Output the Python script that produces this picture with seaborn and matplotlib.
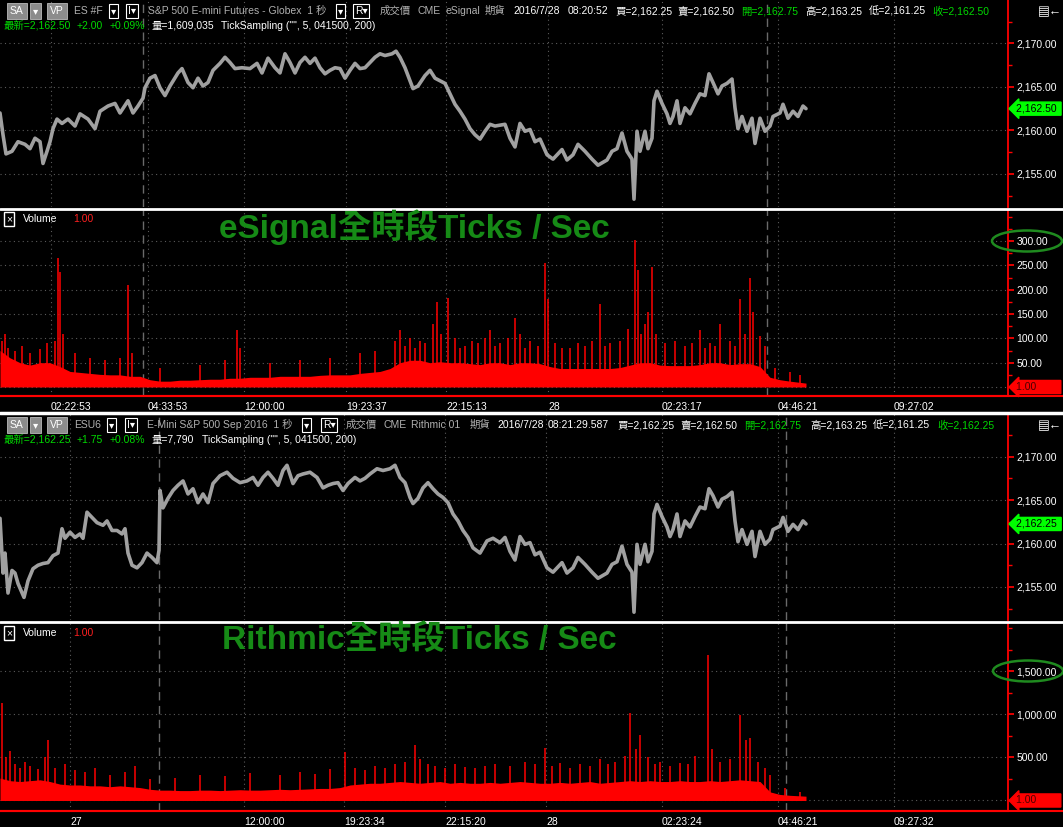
import numpy as np
import pandas as pd
import matplotlib.pyplot as plt
import seaborn as sns
from matplotlib.patches import Ellipse
from matplotlib.lines import Line2D
from matplotlib.ticker import FixedLocator, MultipleLocator, FuncFormatter
from matplotlib.transforms import blended_transform_factory

# ---- eSignal price trace (sample column, price) ----
esig_x = [0, 3, 6, 12, 18, 25, 30, 35, 40, 43, 47, 50, 53, 57, 62, 68, 75, 80, 88, 95,
          100, 108, 115, 120, 128, 133, 138, 143, 145, 150, 155, 160, 165, 170, 178, 182, 188, 193, 198, 203,
          208, 213, 220, 225, 230, 235, 242, 250, 257, 262, 268, 275, 280, 285, 290, 295, 300, 305, 310, 315,
          320, 325, 330, 335, 340, 345, 350, 355, 360, 365, 370, 375, 380, 385, 392, 396, 400, 405, 410, 413,
          418, 425, 430, 435, 440, 445, 450, 455, 460, 465, 470, 475, 480, 485, 490, 495, 505, 510, 515, 520,
          525, 530, 535, 540, 547, 553, 562, 567, 573, 578, 585, 592, 598, 607, 612, 617, 622, 627, 632, 634,
          637, 640, 645, 648, 652, 654, 657, 662, 667, 670, 673, 677, 680, 685, 690, 695, 700, 705, 709, 713,
          718, 722, 727, 732, 735, 738, 742, 747, 752, 755, 760, 765, 770, 773, 780, 783, 788, 793, 798, 803, 806]
esig_price = [2162.0, 2159.5, 2157.3, 2157.6, 2158.7, 2158.4, 2157.9, 2159.1, 2158.7, 2156.2,
              2157.6, 2158.7, 2160.2, 2161.3, 2160.8, 2161.3, 2160.5, 2161.9, 2161.3, 2160.2,
              2162.2, 2162.8, 2163.1, 2162.0, 2163.4, 2162.0, 2162.8, 2163.7, 2164.9, 2166.0,
              2166.3, 2164.9, 2164.0, 2165.1, 2166.6, 2167.1, 2165.5, 2164.9, 2166.0, 2165.1,
              2165.5, 2166.9, 2167.7, 2168.4, 2167.8, 2167.1, 2167.2, 2167.1, 2167.7, 2166.6,
              2168.3, 2167.2, 2166.6, 2168.8, 2167.8, 2166.6, 2167.8, 2168.4, 2167.7, 2168.3,
              2167.2, 2166.5, 2166.9, 2167.2, 2167.1, 2166.0, 2166.9, 2167.7, 2167.1, 2167.2,
              2167.8, 2168.4, 2168.8, 2168.6, 2168.8, 2169.1, 2168.4, 2167.2, 2165.7, 2164.8,
              2165.1, 2166.3, 2166.9, 2166.0, 2165.7, 2165.4, 2164.2, 2163.0, 2162.2, 2161.3,
              2160.2, 2159.5, 2159.0, 2159.9, 2160.7, 2160.5, 2160.7, 2159.1, 2158.1, 2160.8,
              2159.9, 2160.1, 2158.7, 2159.0, 2157.2, 2156.7, 2157.8, 2156.6, 2157.2, 2158.4,
              2157.6, 2156.7, 2156.0, 2156.6, 2157.6, 2157.9, 2159.7, 2157.6, 2156.7, 2152.1,
              2159.9, 2157.6, 2159.9, 2157.9, 2159.1, 2163.4, 2164.5, 2163.1, 2161.9, 2160.8,
              2161.6, 2163.4, 2160.8, 2162.6, 2161.9, 2163.1, 2164.2, 2164.0, 2166.5, 2165.5,
              2164.2, 2165.1, 2165.4, 2165.9, 2162.6, 2160.2, 2161.6, 2159.9, 2161.4, 2158.5,
              2161.4, 2159.9, 2160.5, 2161.6, 2162.0, 2163.0, 2161.4, 2162.2, 2161.6, 2162.8, 2162.5]

# ---- Rithmic price trace ----
rith_x = [0, 3, 5, 8, 12, 15, 18, 24, 28, 33, 38, 43, 48, 53, 58, 62, 65, 70, 75, 80,
          83, 87, 92, 97, 103, 107, 112, 117, 122, 125, 128, 132, 137, 142, 147, 152, 157, 159, 160, 163,
          168, 173, 178, 183, 188, 193, 198, 203, 208, 213, 220, 227, 233, 240, 247, 253, 258, 263, 268, 273,
          278, 283, 287, 293, 298, 303, 310, 317, 323, 328, 333, 338, 343, 348, 355, 360, 365, 370, 377, 383,
          390, 395, 400, 405, 410, 413, 418, 423, 428, 433, 438, 443, 448, 453, 458, 463, 468, 473, 480, 487,
          493, 500, 505, 510, 515, 520, 525, 530, 535, 540, 547, 553, 562, 567, 573, 578, 585, 592, 598, 607,
          612, 617, 622, 627, 632, 634, 637, 640, 645, 648, 652, 654, 657, 662, 667, 670, 673, 677, 680, 685,
          690, 695, 700, 705, 709, 713, 718, 722, 727, 732, 735, 738, 742, 747, 752, 755, 760, 765, 770, 773,
          780, 783, 788, 793, 798, 803, 806]
rith_price = [2162.9, 2156.6, 2158.9, 2154.3, 2156.9, 2156.6, 2155.4, 2153.8, 2155.7, 2157.1,
              2157.5, 2157.7, 2157.8, 2158.6, 2158.9, 2161.7, 2160.6, 2161.3, 2160.7, 2161.1,
              2160.6, 2163.6, 2163.0, 2162.4, 2162.1, 2162.6, 2161.5, 2161.5, 2161.1, 2161.7,
              2158.9, 2157.5, 2157.2, 2157.8, 2158.9, 2158.4, 2157.8, 2159.2, 2166.1, 2164.1,
              2165.2, 2166.1, 2166.7, 2167.2, 2165.7, 2166.3, 2164.7, 2165.7, 2164.7, 2166.9,
              2167.8, 2168.2, 2167.5, 2167.0, 2167.2, 2167.6, 2166.7, 2167.6, 2168.2, 2167.5,
              2166.7, 2168.4, 2169.0, 2166.9, 2167.8, 2168.0, 2168.2, 2167.6, 2166.4, 2166.7,
              2166.9, 2167.0, 2166.1, 2166.9, 2167.6, 2167.2, 2167.5, 2168.0, 2168.6, 2168.4,
              2168.6, 2169.0, 2167.6, 2167.0, 2165.3, 2164.6, 2165.2, 2166.4, 2167.0, 2166.3,
              2165.7, 2165.3, 2164.7, 2163.4, 2162.6, 2161.5, 2160.7, 2159.5, 2158.9, 2160.3,
              2160.6, 2160.1, 2160.7, 2159.1, 2158.1, 2160.8, 2159.9, 2160.1, 2158.7, 2159.0,
              2157.2, 2156.7, 2157.8, 2156.6, 2157.2, 2158.4, 2157.6, 2156.7, 2156.0, 2156.6,
              2157.6, 2157.9, 2159.7, 2157.6, 2156.7, 2152.1, 2159.9, 2157.6, 2159.9, 2157.9,
              2159.1, 2163.4, 2164.5, 2163.1, 2161.9, 2160.8, 2161.6, 2163.4, 2160.8, 2162.6,
              2161.9, 2163.1, 2164.2, 2164.0, 2166.3, 2165.5, 2164.2, 2165.1, 2165.4, 2165.9,
              2162.6, 2160.2, 2161.6, 2159.9, 2161.4, 2158.5, 2161.4, 2159.9, 2160.5, 2161.6,
              2162.0, 2163.0, 2161.4, 2162.2, 2161.6, 2162.6, 2162.25]

# ---- ticks / sec, base level every 10 samples ----
base_x = [0, 10, 20, 30, 40, 50, 60, 70, 80, 90, 100, 110, 120, 130, 140, 150, 160, 170, 180, 190,
          200, 210, 220, 230, 240, 250, 260, 270, 280, 290, 300, 310, 320, 330, 340, 350, 360, 370, 380, 390,
          400, 410, 420, 430, 440, 450, 460, 470, 480, 490, 500, 510, 520, 530, 540, 550, 560, 570, 580, 590,
          600, 610, 620, 630, 640, 650, 660, 670, 680, 690, 700, 710, 720, 730, 740, 750, 760, 770, 780, 790, 806]
esig_base = [75, 60, 50, 45, 50, 50, 42, 32, 30, 28, 26, 25, 25, 22, 22, 15, 12, 12, 14, 14,
             15, 16, 16, 18, 18, 20, 20, 20, 22, 22, 22, 22, 24, 25, 25, 25, 28, 30, 32, 38,
             50, 55, 55, 50, 52, 50, 50, 48, 46, 50, 50, 46, 50, 50, 48, 42, 38, 38, 38, 38,
             38, 38, 40, 45, 50, 50, 45, 44, 44, 44, 46, 50, 50, 46, 48, 48, 42, 20, 15, 12, 8]
rith_base = [260, 230, 220, 230, 240, 220, 190, 180, 180, 170, 170, 160, 170, 160, 150, 130, 120, 120, 115, 115,
             120, 120, 115, 120, 125, 120, 120, 125, 130, 125, 130, 135, 140, 140, 150, 180, 190, 200, 200, 210,
             220, 210, 200, 210, 220, 200, 210, 200, 200, 210, 200, 210, 220, 210, 200, 200, 210, 200, 210, 220,
             200, 210, 220, 230, 220, 230, 220, 220, 230, 220, 220, 230, 220, 230, 240, 230, 220, 100, 70, 60, 50]

esig_spike_x = [2, 5, 8, 15, 22, 30, 40, 47, 55, 58, 60, 63, 75, 90, 105, 120, 128, 132, 160, 200,
                225, 237, 240, 270, 300, 330, 360, 375, 395, 400, 405, 410, 415, 420, 425, 433, 437, 441, 448, 455,
                460, 465, 472, 478, 485, 490, 495, 500, 508, 515, 520, 525, 530, 538, 545, 548, 555, 562, 570, 578,
                585, 592, 600, 605, 610, 620, 628, 635, 638, 641, 645, 648, 652, 656, 665, 675, 685, 692, 700, 705,
                710, 715, 720, 730, 735, 740, 745, 750, 753, 760, 765, 775, 790, 800]
esig_spike = [95, 110, 80, 75, 85, 70, 78, 90, 95, 265, 237, 110, 70, 60, 55, 60, 210, 70, 40, 45,
              55, 117, 80, 50, 55, 60, 70, 75, 95, 118, 85, 100, 80, 95, 90, 130, 175, 110, 183, 100,
              80, 85, 95, 90, 100, 117, 85, 90, 100, 142, 110, 80, 95, 85, 255, 180, 90, 80, 80, 90,
              85, 95, 170, 85, 90, 95, 120, 302, 240, 110, 130, 155, 247, 110, 90, 95, 85, 90, 117, 80,
              90, 85, 130, 95, 85, 180, 110, 224, 155, 105, 85, 40, 30, 25]

rith_spike_x = [2, 6, 10, 15, 20, 25, 30, 38, 45, 48, 55, 65, 75, 85, 95, 110, 125, 135, 150, 175,
                200, 225, 250, 280, 300, 315, 330, 345, 355, 365, 375, 385, 395, 405, 415, 420, 428, 435, 445, 455,
                465, 475, 485, 495, 510, 525, 535, 545, 552, 560, 570, 580, 590, 600, 608, 615, 625, 630, 636, 640,
                648, 655, 660, 670, 680, 688, 695, 708, 712, 720, 730, 740, 746, 750, 758, 765, 770, 785, 800]
rith_spike = [1128, 500, 580, 420, 380, 450, 400, 360, 500, 700, 380, 420, 350, 330, 380, 300, 330, 400, 250, 260,
              300, 280, 320, 300, 330, 310, 360, 558, 380, 350, 400, 380, 420, 450, 640, 480, 420, 400, 380, 420,
              390, 380, 400, 420, 400, 450, 420, 605, 400, 430, 380, 420, 400, 480, 420, 450, 520, 1012, 600, 756,
              500, 420, 450, 400, 430, 420, 520, 1686, 600, 450, 480, 988, 700, 720, 450, 380, 300, 150, 100]

# time axis labels
esig_tick_pos = [51, 148, 244, 346, 446, 548, 662, 778, 894]
esig_tick_lbl = ["02:22:53", "04:33:53", "12:00:00", "19:23:37", "22:15:13", "28", "02:23:17", "04:46:21", "09:27:02"]
rith_tick_pos = [70, 244, 344, 445, 546, 662, 778, 894]
rith_tick_lbl = ["27", "12:00:00", "19:23:34", "22:15:20", "28", "02:23:24", "04:46:21", "09:27:32"]
esig_session = [143, 767]
rith_session = [159, 786]

sns.set_theme(style="dark", rc={"axes.facecolor": "black", "figure.facecolor": "black",
                                "axes.edgecolor": "red", "grid.color": "#555555"})
plt.rcParams['font.family'] = ['Liberation Sans', 'DejaVu Sans', 'Noto Sans CJK TC']

W, H = 1063, 827
AXW = 1008
fig = plt.figure(figsize=(W / 100, H / 100), dpi=100)
fig.patch.set_facecolor('black')

GRID = dict(color='#5a5a5a', linestyle=(0, (1, 3)), linewidth=0.8)
fmt = FuncFormatter(lambda v, p: f"{v:,.2f}")


def add_ax(y0, y1):
    ax = fig.add_axes([0, 1 - y1 / H, AXW / W, (y1 - y0) / H])
    ax.set_facecolor('black')
    ax.set_xlim(0, AXW)
    for s in ['left', 'top', 'bottom']:
        ax.spines[s].set_visible(False)
    ax.spines['right'].set_color('red')
    ax.spines['right'].set_linewidth(1.3)
    ax.yaxis.tick_right()
    ax.tick_params(axis='y', which='both', colors='red', labelcolor='white', labelsize=7.5, pad=2, direction='out')
    ax.tick_params(axis='y', which='major', length=4)
    ax.tick_params(axis='y', which='minor', length=3, width=1)
    ax.yaxis.set_major_formatter(fmt)
    ax.grid(False)
    return ax


def draw_price(ax, xs, ps, ylim, ticks, pos, sess):
    df = pd.DataFrame({'x': xs, 'p': ps})
    sns.lineplot(data=df, x='x', y='p', ax=ax, color='#a0a0a0', linewidth=2.6, estimator=None, sort=False)
    ax.set_ylim(*ylim)
    ax.yaxis.set_major_locator(FixedLocator(ticks))
    ax.yaxis.set_minor_locator(MultipleLocator(2.5))
    for t in ticks:
        ax.axhline(t, zorder=0, **GRID)
    for p in pos:
        ax.axvline(p, zorder=0, **GRID)
    for s in sess:
        ax.axvline(s, color='#6a6a6a', linestyle=(0, (6, 4)), linewidth=1.0, zorder=0)
    ax.set_xticks([])
    ax.set_xlabel('')
    ax.set_ylabel('')
    ax.set_xlim(0, AXW)


def draw_vol(ax, base, sx, sv, ylim, ticks, minor, pos, lbls, sess):
    ax.fill_between(base_x, 0, base, color='red', linewidth=0)
    ax.vlines(sx, 0, sv, colors='red', linewidth=1.1)
    ax.set_ylim(*ylim)
    ax.yaxis.set_major_locator(FixedLocator(ticks))
    ax.yaxis.set_minor_locator(MultipleLocator(minor))
    for t in ticks + [0]:
        ax.axhline(t, zorder=0, **GRID)
    for p in pos:
        ax.axvline(p, zorder=0, **GRID)
    for s in sess:
        ax.axvline(s, color='#6a6a6a', linestyle=(0, (6, 4)), linewidth=1.0, zorder=0)
    ax.spines['bottom'].set_visible(True)
    ax.spines['bottom'].set_color('red')
    ax.spines['bottom'].set_linewidth(1.5)
    ax.set_xticks(pos)
    ax.set_xticklabels(lbls)
    ax.tick_params(axis='x', colors='#d0d0d0', labelcolor='white', labelsize=7.5, length=3, pad=1.5, direction='out')
    for lb in ax.get_xticklabels():
        lb.set_ha('left')
    ax.set_xlim(0, AXW)


ax_p1 = add_ax(0, 207)
draw_price(ax_p1, esig_x, esig_price, (2151.2, 2174.98), [2155, 2160, 2165, 2170], esig_tick_pos, esig_session)
ax_v1 = add_ax(210, 396)
draw_vol(ax_v1, esig_base, esig_spike_x, esig_spike, (-18.5, 364), [50, 100, 150, 200, 250, 300], 25,
         esig_tick_pos, esig_tick_lbl, esig_session)
ax_p2 = add_ax(414, 620)
draw_price(ax_p2, rith_x, rith_price, (2151.2, 2174.9), [2155, 2160, 2165, 2170], rith_tick_pos, rith_session)
ax_v2 = add_ax(623, 811)
draw_vol(ax_v2, rith_base, rith_spike_x, rith_spike, (-122, 2060), [500, 1000, 1500], 250,
         rith_tick_pos, rith_tick_lbl, rith_session)

# price / volume tags on the right axis
for ax, val, txt, fc, tc in [(ax_p1, esig_price[-1], "2,162.50 ", '#00ff00', 'black'),
                             (ax_p2, rith_price[-1], "2,162.25 ", '#00ff00', 'black'),
                             (ax_v1, 0, "1.00        ", 'red', '#4a0000'),
                             (ax_v2, 0, "1.00        ", 'red', '#4a0000')]:
    tr = blended_transform_factory(fig.transFigure, ax.transData)
    ax.text(1016 / W, val, txt, transform=tr, ha='left', va='center', fontsize=7.5, color=tc,
            bbox=dict(boxstyle='larrow,pad=0.15', fc=fc, ec=fc), clip_on=False, zorder=10)

# separators
def hline(y, color, lw):
    fig.add_artist(Line2D([0, 1], [1 - y / H, 1 - y / H], color=color, linewidth=lw, transform=fig.transFigure))

hline(208.5, 'white', 2)
hline(412.5, 'white', 2.5)
hline(621.5, 'white', 2)
hline(396, 'red', 1.5)
hline(811, 'red', 1.5)

# circled scale labels
for cx, cy in [(1027, 241), (1028, 671)]:
    fig.add_artist(Ellipse((cx / W, 1 - cy / H), 70 / W, 21 / H, transform=fig.transFigure,
                           fill=False, edgecolor='#1f8a1f', linewidth=1.8))


def t(x, y, s, color='white', size=7.5, box=None, **kw):
    bb = None
    if box == 'gray':
        bb = dict(boxstyle='square,pad=0.28', fc='#8c8c8c', ec='#bbbbbb', lw=0.6)
    elif box == 'edge':
        bb = dict(boxstyle='square,pad=0.15', fc='black', ec='white', lw=0.8)
    elif box == 'xbox':
        bb = dict(boxstyle='square,pad=0.2', fc='black', ec='white', lw=1.0)
    fig.text(x / W, 1 - y / H, s, color=color, fontsize=size, va='center', ha='left', bbox=bb, **kw)


G = '#b0b0b0'
GR = '#00d800'
top_items = [(10, "SA", 'white', 'gray'), (33, "▾", 'white', 'gray'), (50, "VP", 'white', 'gray'),
             (74, "ES #F", G, None), (111, "▾", 'white', 'edge'), (128, "I▾", 'white', 'edge'),
             (148, "S&P 500 E-mini Futures - Globex  1 秒", G, None), (338, "▾", 'white', 'edge'),
             (355, "R▾", 'white', 'edge'), (380, "成交價", G, None), (417, "CME", G, None),
             (445, "eSignal", G, None), (485, "期貨", G, None), (513, "2016/7/28", 'white', None),
             (568, "08:20:52", 'white', None), (615, "買=2,162.25", 'white', None),
             (677, "賣=2,162.50", 'white', None), (741, "開=2,162.75", GR, None),
             (805, "高=2,163.25", 'white', None), (869, "低=2,161.25", 'white', None),
             (932, "收=2,162.50", GR, None)]
for x, s, c, b in top_items:
    t(x, 11, s, c, box=b)
for x, s, c in [(4, "最新=2,162.50", GR), (77, "+2.00", GR), (110, "+0.09%", GR),
                (152, "量=1,609,035", 'white'), (221, 'TickSampling ("", 5, 041500, 200)', 'white')]:
    t(x, 26, s, c)

bot_items = [(10, "SA", 'white', 'gray'), (33, "▾", 'white', 'gray'), (50, "VP", 'white', 'gray'),
             (74, "ESU6", G, None), (109, "▾", 'white', 'edge'), (127, "I▾", 'white', 'edge'),
             (147, "E-Mini S&P 500 Sep 2016  1 秒", G, None), (304, "▾", 'white', 'edge'),
             (323, "R▾", 'white', 'edge'), (346, "成交價", G, None), (383, "CME", G, None),
             (411, "Rithmic 01", G, None), (470, "期貨", G, None), (497, "2016/7/28", 'white', None),
             (548, "08:21:29.587", 'white', None), (617, "買=2,162.25", 'white', None),
             (680, "賣=2,162.50", 'white', None), (744, "開=2,162.75", GR, None),
             (810, "高=2,163.25", 'white', None), (873, "低=2,161.25", 'white', None),
             (937, "收=2,162.25", GR, None)]
for x, s, c, b in bot_items:
    t(x, 425, s, c, box=b)
for x, s, c in [(4, "最新=2,162.25", GR), (77, "+1.75", GR), (110, "+0.08%", GR),
                (152, "量=7,790", 'white'), (202, 'TickSampling ("", 5, 041500, 200)', 'white')]:
    t(x, 440, s, c)

for y in (219, 633):
    t(6, y, "×", 'white', size=7.5, box='xbox')
    t(23, y, "Volume", 'white')
    t(73, y, "1.00", '#ff2020')

for y in (12, 426):
    t(1038, y, "▤←", 'white', size=9)

t(219, 227, "eSignal全時段Ticks / Sec", '#168a16', size=24, fontweight='bold')
t(222, 640, "Rithmic全時段Ticks / Sec", '#168a16', size=24, fontweight='bold')

fig.savefig('out.png', dpi=100, facecolor='black')
